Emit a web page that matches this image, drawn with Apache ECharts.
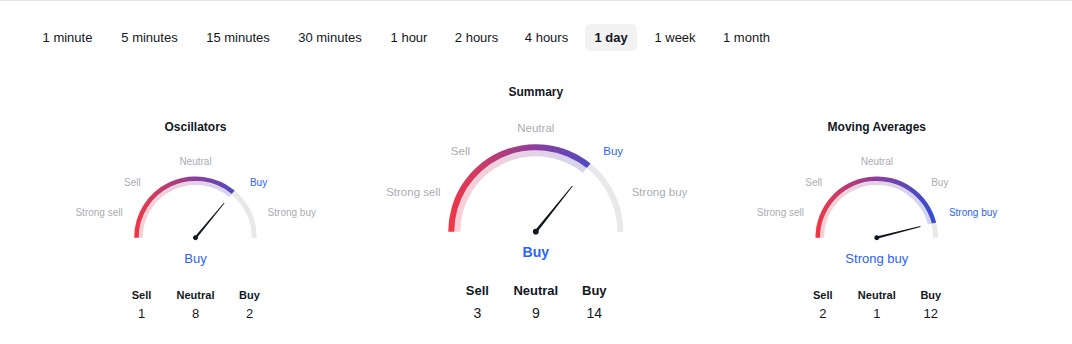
<!DOCTYPE html>
<html>
<head>
<meta charset="utf-8">
<style>
html,body{margin:0;padding:0;background:#fff;}
#chart{width:1072px;height:344px;}
</style>
<script src="https://cdn.jsdelivr.net/npm/echarts@6/dist/echarts.min.js"></script>
</head>
<body>
<div id="chart"></div>
<script>
// ---------- data ----------
const tabs = ['1 minute', '5 minutes', '15 minutes', '30 minutes', '1 hour', '2 hours', '4 hours', '1 day', '1 week', '1 month'];
const activeTab = '1 day';
const gaugeNames = ['Oscillators', 'Summary', 'Moving Averages'];
const gaugeValues = [0.44, 0.43, 0.84];          // needle position, -1 (strong sell) .. 1 (strong buy)
const gaugeRatings = ['Buy', 'Buy', 'Strong buy'];
const scaleLabels = ['Strong sell', 'Sell', 'Neutral', 'Buy', 'Strong buy'];
const countLabels = ['Sell', 'Neutral', 'Buy'];
const oscillatorCounts = [1, 8, 2];
const summaryCounts = [3, 9, 14];
const movingAverageCounts = [2, 1, 12];
const gaugeCounts = [oscillatorCounts, summaryCounts, movingAverageCounts];

// ---------- layout / style ----------
const FONT = '"Liberation Sans", Arial, sans-serif';
const BLUE = '#2962FF';
const GREY = '#AAACB2';
const INK = '#131722';
const tabCenters = [67.5, 149.5, 238, 330, 409, 476.5, 546.5, 611, 675, 746.5];
const small = {
  R: 61.3, track: 5, solid: 4.5, light: 4, needle: 45, anchor: 5, needleW: 2.4,
  titleDy: -110.7, detailDy: 20.6, detailSize: 13, detailWeight: 'normal',
  labelSize: 10,
  labelPos: [[-72.8, -25.4, 'right'], [-54.8, -55.4, 'right'], [0, -76, 'center'], [54.4, -55.4, 'left'], [72.1, -25.4, 'left']],
  countDx: 54, countLabelDy: 57.3, countValueDy: 75.8, countLabelSize: 11, countValueSize: 13
};
const big = {
  R: 87.5, track: 6, solid: 6, light: 6, needle: 58.5, anchor: 6, needleW: 2.8,
  titleDy: -139.7, detailDy: 20.6, detailSize: 14, detailWeight: 'bold',
  labelSize: 11.5,
  labelPos: [[-95.3, -39.4, 'right'], [-65.8, -80.7, 'right'], [0, -103.4, 'center'], [67.5, -80.7, 'left'], [95.9, -39.4, 'left']],
  countDx: 58.5, countLabelDy: 58.3, countValueDy: 81, countLabelSize: 13, countValueSize: 14
};
const gaugeLayout = [
  Object.assign({cx: 195.5, cy: 237.7}, small),
  Object.assign({cx: 535.8, cy: 231.7}, big),
  Object.assign({cx: 876.8, cy: 237.7}, small)
];

function grad(L, alpha) {
  const stops = [
    {offset: 0, color: 'rgba(242,54,69,' + alpha + ')'},
    {offset: 0.5, color: 'rgba(139,63,158,' + alpha + ')'},
    {offset: 1, color: 'rgba(47,78,216,' + alpha + ')'}
  ];
  return new echarts.graphic.LinearGradient(L.cx - L.R, 0, L.cx + L.R, 0, stops, true);
}

const series = [];
const graphic = [];

// top border
graphic.push({type: 'rect', shape: {x: 0, y: 0, width: 1072, height: 1}, style: {fill: '#E6E6E6'}, silent: true});

// tabs
tabs.forEach((t, i) => {
  const active = t === activeTab;
  if (active) {
    graphic.push({type: 'rect', shape: {x: tabCenters[i] - 26, y: 24, width: 52, height: 27, r: 6}, style: {fill: '#F2F2F2'}, silent: true});
  }
  graphic.push({
    type: 'text', x: tabCenters[i], y: 37.5,
    style: {text: t, fill: INK, font: (active ? 'bold ' : '') + '13px ' + FONT, textAlign: 'center', textVerticalAlign: 'middle'}
  });
});

gaugeNames.forEach((name, gi) => {
  const L = gaugeLayout[gi];
  const common = {
    type: 'gauge', center: [L.cx, L.cy], startAngle: 180, endAngle: 0, min: -1, max: 1,
    splitNumber: 4, axisTick: {show: false}, splitLine: {show: false}, axisLabel: {show: false},
    title: {show: false}, animation: false
  };
  // track + solid progress + needle
  series.push(Object.assign({}, common, {
    radius: L.R,
    axisLine: {show: true, lineStyle: {width: L.track, color: [[1, '#E8E8EA']]}},
    progress: {show: true, width: L.solid, itemStyle: {color: grad(L, 1)}},
    pointer: {show: true, icon: 'path://M1,0 L2,0 L3,100 L0,100 Z', length: L.needle, width: L.needleW, offsetCenter: [0, 0], itemStyle: {color: INK}},
    anchor: {show: true, showAbove: true, size: L.anchor, itemStyle: {color: INK}},
    detail: {show: true, offsetCenter: [0, L.detailDy], formatter: () => gaugeRatings[gi], color: BLUE, fontSize: L.detailSize, fontWeight: L.detailWeight, fontFamily: FONT},
    data: [{value: gaugeValues[gi]}],
    z: 3
  }));
  // light inner band
  series.push(Object.assign({}, common, {
    radius: L.R - L.solid,
    axisLine: {show: false},
    progress: {show: true, width: L.light, itemStyle: {color: grad(L, 0.24)}},
    pointer: {show: false}, anchor: {show: false}, detail: {show: false},
    data: [{value: gaugeValues[gi]}],
    z: 2
  }));

  // title
  graphic.push({
    type: 'text', x: L.cx, y: L.cy + L.titleDy,
    style: {text: name, fill: INK, font: 'bold 12px ' + FONT, textAlign: 'center', textVerticalAlign: 'middle'}
  });
  // scale labels
  scaleLabels.forEach((s, si) => {
    const p = L.labelPos[si];
    graphic.push({
      type: 'text', x: L.cx + p[0], y: L.cy + p[1],
      style: {text: s, fill: s === gaugeRatings[gi] ? BLUE : GREY, font: L.labelSize + 'px ' + FONT, textAlign: p[2], textVerticalAlign: 'middle'}
    });
  });
  // counts
  countLabels.forEach((c, ci) => {
    const x = L.cx + (ci - 1) * L.countDx;
    graphic.push({
      type: 'text', x: x, y: L.cy + L.countLabelDy,
      style: {text: c, fill: INK, font: 'bold ' + L.countLabelSize + 'px ' + FONT, textAlign: 'center', textVerticalAlign: 'middle'}
    });
    graphic.push({
      type: 'text', x: x, y: L.cy + L.countValueDy,
      style: {text: String(gaugeCounts[gi][ci]), fill: INK, font: L.countValueSize + 'px ' + FONT, textAlign: 'center', textVerticalAlign: 'middle'}
    });
  });
});

const chart = echarts.init(document.getElementById('chart'), null, {renderer: 'svg'});
chart.setOption({animation: false, backgroundColor: '#fff', series: series, graphic: graphic});
</script>
</body>
</html>
